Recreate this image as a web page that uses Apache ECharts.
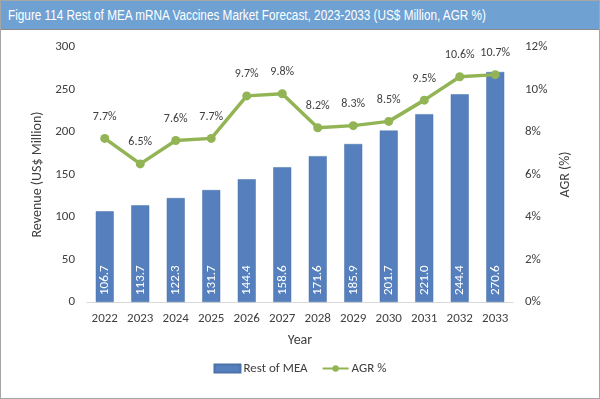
<!DOCTYPE html>
<html>
<head>
<meta charset="utf-8">
<script src="https://cdn.jsdelivr.net/npm/echarts@6/dist/echarts.min.js"></script>
<style>
  html, body { margin: 0; padding: 0; background: #fff; }
  #wrap { position: relative; width: 598px; height: 397px; border: 1px solid #a6a6a6; overflow: hidden; }
  #title {
    height: 28px; background: #6fa1d3; border-bottom: 1px solid #8a8a8a;
    color: #fff; font: 14px "Liberation Sans", Arial, sans-serif;
    line-height: 29px; padding-left: 7px; white-space: nowrap;
  }
  #title span { display: inline-block; transform: scaleX(0.84); transform-origin: left center; }
  #chart { position: absolute; left: 0; top: 29px; width: 598px; height: 368px; }
</style>
</head>
<body>
<div id="wrap">
  <div id="title"><span>Figure 114 Rest of MEA mRNA Vaccines Market Forecast, 2023-2033 (US$ Million, AGR %)</span></div>
  <div id="chart"></div>
</div>
<script>
// 数据
const years = ['2022', '2023', '2024', '2025', '2026', '2027', '2028', '2029', '2030', '2031', '2032', '2033']
const revenue = [106.7, 113.7, 122.3, 131.7, 144.4, 158.6, 171.6, 185.9, 201.7, 221.0, 244.4, 270.6]
const agr = [7.7, 6.5, 7.6, 7.7, 9.7, 9.8, 8.2, 8.3, 8.5, 9.5, 10.6, 10.7]

const font = 'Calibri, Carlito, "Liberation Sans", sans-serif'
const myChart = echarts.init(document.getElementById('chart'))

const option = {
    animation: false,
    textStyle: { fontFamily: font },
    grid: { left: 86, right: 86, top: 17, bottom: 96 },
    legend: {
        bottom: 18,
        left: 'center',
        itemGap: 14,
        itemWidth: 26,
        itemHeight: 8,
        textStyle: { fontSize: 13, color: '#404040', fontFamily: font, padding: [0, 0, 0, -2] },
        data: [
            { name: 'Rest of MEA', icon: 'rect' },
            { name: 'AGR %' }
        ]
    },
    xAxis: {
        type: 'category',
        data: years,
        name: 'Year',
        nameLocation: 'middle',
        nameGap: 31,
        nameTextStyle: { fontSize: 14, color: '#404040' },
        axisLine: { lineStyle: { color: '#d9d9d9', width: 1 } },
        axisTick: { show: false },
        axisLabel: { fontSize: 13, color: '#404040', margin: 10 }
    },
    yAxis: [
        {
            type: 'value',
            min: 0, max: 300, interval: 50,
            name: 'Revenue (US$ Million)',
            nameLocation: 'middle',
            nameGap: 35,
            nameTextStyle: { fontSize: 14, color: '#404040' },
            splitLine: { show: false },
            axisLine: { show: false },
            axisTick: { show: false },
            axisLabel: { fontSize: 13, color: '#404040', margin: 12 }
        },
        {
            type: 'value',
            min: 0, max: 12, interval: 2,
            name: 'AGR (%)',
            nameLocation: 'middle',
            nameGap: 33,
            nameTextStyle: { fontSize: 14, color: '#404040' },
            splitLine: { show: false },
            axisLine: { show: false },
            axisTick: { show: false },
            axisLabel: { fontSize: 13, color: '#404040', margin: 12, formatter: '{value}%' }
        }
    ],
    series: [
        {
            name: 'Rest of MEA',
            type: 'bar',
            data: revenue,
            barWidth: 18,
            itemStyle: { color: '#5580bd', borderColor: '#4a72a8', borderWidth: 0.5 },
            label: {
                show: true,
                position: 'insideBottom',
                rotate: 90,
                align: 'left',
                verticalAlign: 'middle',
                distance: 7,
                color: '#fff',
                fontSize: 13,
                formatter: p => p.value.toFixed(1)
            }
        },
        {
            name: 'AGR %',
            type: 'line',
            yAxisIndex: 1,
            data: agr,
            symbol: 'circle',
            symbolSize: 9,
            lineStyle: { color: '#93b454', width: 3.5 },
            itemStyle: { color: '#93b454' },
            label: {
                show: true,
                position: 'top',
                distance: 11,
                color: '#404040',
                fontSize: 12,
                formatter: p => p.value.toFixed(1) + '%'
            }
        }
    ]
}

option && myChart.setOption(option)
</script>
</body>
</html>
